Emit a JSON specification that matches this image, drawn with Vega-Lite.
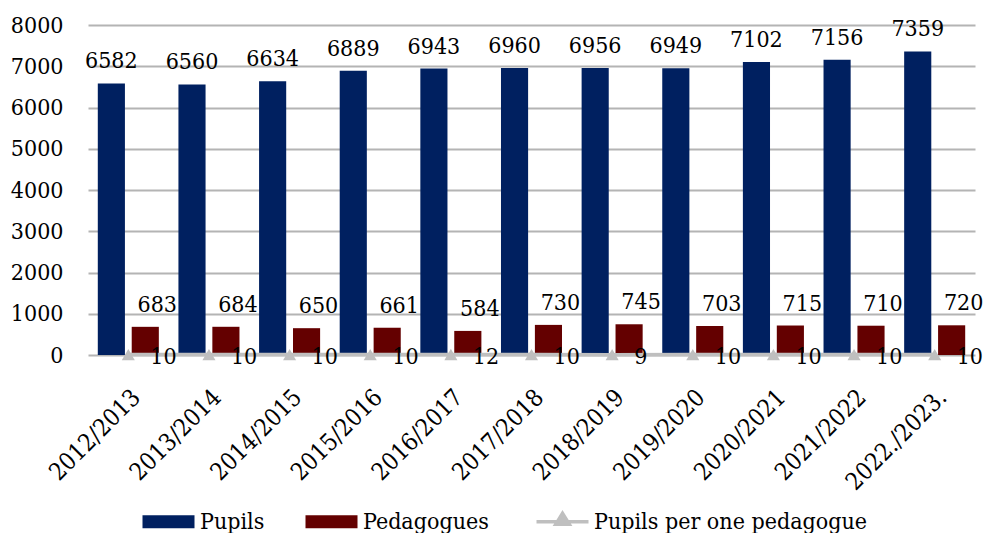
{
  "$schema": "https://vega.github.io/schema/vega-lite/v6.json",
  "width": 887,
  "height": 330,
  "autosize": "none",
  "padding": {"left": 88, "top": 25, "right": 11, "bottom": 178},
  "background": "white",
  "config": {
    "view": {"stroke": null},
    "font": "DejaVu Serif Condensed"
  },
  "data": {
    "values": [
      {"year": "2012/2013", "series": "Pupils", "value": 6582},
      {"year": "2013/2014", "series": "Pupils", "value": 6560},
      {"year": "2014/2015", "series": "Pupils", "value": 6634},
      {"year": "2015/2016", "series": "Pupils", "value": 6889},
      {"year": "2016/2017", "series": "Pupils", "value": 6943},
      {"year": "2017/2018", "series": "Pupils", "value": 6960},
      {"year": "2018/2019", "series": "Pupils", "value": 6956},
      {"year": "2019/2020", "series": "Pupils", "value": 6949},
      {"year": "2020/2021", "series": "Pupils", "value": 7102},
      {"year": "2021/2022", "series": "Pupils", "value": 7156},
      {"year": "2022./2023.", "series": "Pupils", "value": 7359},
      {"year": "2012/2013", "series": "Pedagogues", "value": 683},
      {"year": "2013/2014", "series": "Pedagogues", "value": 684},
      {"year": "2014/2015", "series": "Pedagogues", "value": 650},
      {"year": "2015/2016", "series": "Pedagogues", "value": 661},
      {"year": "2016/2017", "series": "Pedagogues", "value": 584},
      {"year": "2017/2018", "series": "Pedagogues", "value": 730},
      {"year": "2018/2019", "series": "Pedagogues", "value": 745},
      {"year": "2019/2020", "series": "Pedagogues", "value": 703},
      {"year": "2020/2021", "series": "Pedagogues", "value": 715},
      {"year": "2021/2022", "series": "Pedagogues", "value": 710},
      {"year": "2022./2023.", "series": "Pedagogues", "value": 720},
      {"year": "2012/2013", "series": "Pupils per one pedagogue", "value": 10},
      {"year": "2013/2014", "series": "Pupils per one pedagogue", "value": 10},
      {"year": "2014/2015", "series": "Pupils per one pedagogue", "value": 10},
      {"year": "2015/2016", "series": "Pupils per one pedagogue", "value": 10},
      {"year": "2016/2017", "series": "Pupils per one pedagogue", "value": 12},
      {"year": "2017/2018", "series": "Pupils per one pedagogue", "value": 10},
      {"year": "2018/2019", "series": "Pupils per one pedagogue", "value": 9},
      {"year": "2019/2020", "series": "Pupils per one pedagogue", "value": 10},
      {"year": "2020/2021", "series": "Pupils per one pedagogue", "value": 10},
      {"year": "2021/2022", "series": "Pupils per one pedagogue", "value": 10},
      {"year": "2022./2023.", "series": "Pupils per one pedagogue", "value": 10}
    ]
  },
  "encoding": {
    "x": {
      "field": "year", "type": "nominal", "sort": null,
      "scale": {"paddingInner": 0.243, "paddingOuter": 0.1215},
      "axis": {
        "title": null, "labelAngle": -45, "labelFont": "DejaVu Serif Condensed", "labelFontSize": 24,
        "labelColor": "black", "domain": false, "ticks": false, "labelPadding": 30,
        "labelBaseline": "top", "labelAlign": "right", "labelLimit": 0
      }
    },
    "y": {
      "field": "value", "type": "quantitative",
      "scale": {"domain": [0, 8000], "nice": false},
      "axis": {
        "title": null, "values": [0,1000,2000,3000,4000,5000,6000,7000,8000], "format": "d",
        "labelOverlap": false,
        "labelFont": "DejaVu Serif Condensed", "labelFontSize": 23, "labelColor": "black",
        "domain": false, "ticks": false, "labelPadding": 25,
        "gridColor": "#B4B4B4", "gridWidth": 2
      }
    }
  },
  "layer": [
    {
      "transform": [{"filter": "datum.series !== 'Pupils per one pedagogue'"}],
      "mark": {"type": "bar"},
      "encoding": {
        "xOffset": {"field": "series", "type": "nominal", "scale": {"domain": ["Pupils", "Pedagogues"], "paddingInner": 0.2}},
        "color": {
          "field": "series", "type": "nominal",
          "scale": {"domain": ["Pupils", "Pedagogues", "Pupils per one pedagogue"], "range": ["#002060", "#640000", "#BFBFBF"]},
          "legend": {
            "orient": "none", "legendX": 69, "legendY": 485, "direction": "horizontal", "title": null,
            "padding": 0, "symbolSize": 2704, "labelFont": "DejaVu Serif Condensed", "labelFontSize": 23,
            "labelColor": "black", "columnPadding": 40, "labelOffset": 20, "labelLimit": 0,
            "encode": {
              "symbols": {
                "update": {
                  "shape": {"signal": "datum.value === 'Pupils per one pedagogue' ? 'M-1,0H1M-0.26,0.1L0,-0.32L0.26,0.1Z' : 'M-1,-0.25H1V0.25H-1Z'"},
                  "fill": {"signal": "scale('color', datum.value)"},
                  "stroke": {"signal": "scale('color', datum.value)"},
                  "strokeWidth": {"signal": "datum.value === 'Pupils per one pedagogue' ? 3.5 : 0"},
                  "opacity": {"value": 1},
                  "fillOpacity": {"value": 1}
                }
              }
            }
          }
        }
      }
    },
    {
      "transform": [{"filter": "datum.series === 'Pupils per one pedagogue'"}],
      "mark": {"type": "line", "strokeWidth": 3.5},
      "encoding": {
        "color": {"field": "series", "type": "nominal"}
      }
    },
    {
      "transform": [{"filter": "datum.series === 'Pupils per one pedagogue'"}],
      "mark": {"type": "point", "shape": "triangle-up", "filled": true, "size": 170, "opacity": 1},
      "encoding": {
        "color": {"field": "series", "type": "nominal"}
      }
    },
    {
      "transform": [{"filter": "datum.series === 'Pupils'"}],
      "mark": {"type": "text", "font": "DejaVu Serif Condensed", "fontSize": 23, "color": "black", "baseline": "alphabetic", "dy": -15},
      "encoding": {
        "xOffset": {"field": "series", "type": "nominal"},
        "text": {"field": "value", "type": "quantitative", "format": "d"}
      }
    },
    {
      "transform": [{"filter": "datum.series === 'Pedagogues'"}],
      "mark": {"type": "text", "font": "DejaVu Serif Condensed", "fontSize": 23, "color": "black", "baseline": "alphabetic", "dy": -15, "dx": 12},
      "encoding": {
        "xOffset": {"field": "series", "type": "nominal"},
        "text": {"field": "value", "type": "quantitative", "format": "d"}
      }
    },
    {
      "transform": [{"filter": "datum.series === 'Pupils per one pedagogue'"}],
      "mark": {"type": "text", "font": "DejaVu Serif Condensed", "fontSize": 23, "color": "black", "baseline": "alphabetic", "align": "left", "dy": 9, "dx": 22},
      "encoding": {
        "text": {"field": "value", "type": "quantitative", "format": "d"}
      }
    }
  ]
}
